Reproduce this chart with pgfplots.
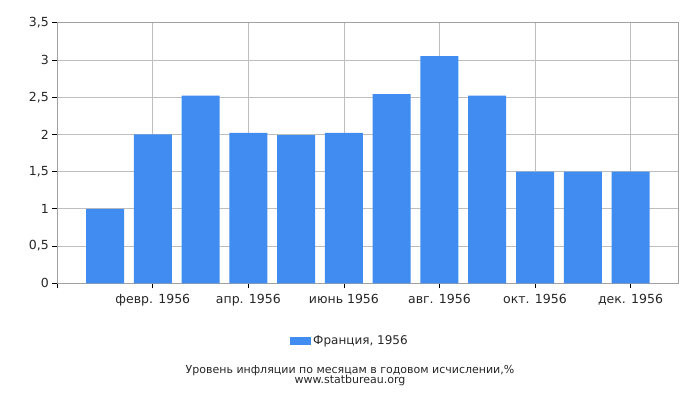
\documentclass[border=0pt]{standalone}
\usepackage{fontspec}
\setmainfont{DejaVu Sans}
\usepackage{pgfplots}
\pgfplotsset{compat=1.18}
\definecolor{barc}{HTML}{418CF0}
\definecolor{grd}{HTML}{BEBEBE}
\begin{document}
\begin{tikzpicture}
\useasboundingbox (0pt,0pt) rectangle (700pt,400pt);
\begin{axis}[at={(57.3pt,116.7pt)}, anchor=south west, scale only axis,
  width=621pt, height=260.6pt,
  xmin=-1, xmax=12, ymin=0, ymax=3.5,
  xtick={-1,1,3,5,7,9,11},
  xticklabels={,февр. 1956,апр. 1956,июнь 1956,авг. 1956,окт. 1956,дек. 1956},
  ytick={0,0.5,...,3.5},
  xtick pos=bottom, ytick pos=left,
  /pgf/number format/.cd, use comma, 1000 sep={}, assume math mode=true, /pgfplots/.cd,
  grid=major, grid style={grd, line width=0.8pt},
  axis line style={draw=grd!85!black, line width=0.8pt},
  tick align=outside, major tick length=5pt,
  tick style={black, line width=0.8pt},
  ticklabel style={font=\fontsize{12.5}{14}\selectfont, text=black!85},
  xticklabel style={yshift=-2pt},
  ybar, bar width=38pt,
  legend style={at={(0.4713,-0.2214)}, anchor=center, draw=none, fill=none,
    font=\fontsize{12}{14}\selectfont, text=black!85,
    legend cell align=left},
  legend image code/.code={\fill[barc] (0pt,-4pt) rectangle (21pt,4pt);},
]
\addplot[fill=barc, draw=none] coordinates {
(0,1.0) (1,2.0) (2,2.52) (3,2.02) (4,1.99) (5,2.02)
(6,2.54) (7,3.05) (8,2.52) (9,1.5) (10,1.5) (11,1.5)};
\addlegendentry{Франция, 1956}
\end{axis}
\node[font=\fontsize{11}{13}\selectfont, text=black!85] at (350pt,29.5pt) {Уровень инфляции по месяцам в годовом исчислении,\%};
\node[font=\fontsize{11}{13}\selectfont, text=black!85] at (350pt,19.5pt) {www.statbureau.org};
\end{tikzpicture}
\end{document}
